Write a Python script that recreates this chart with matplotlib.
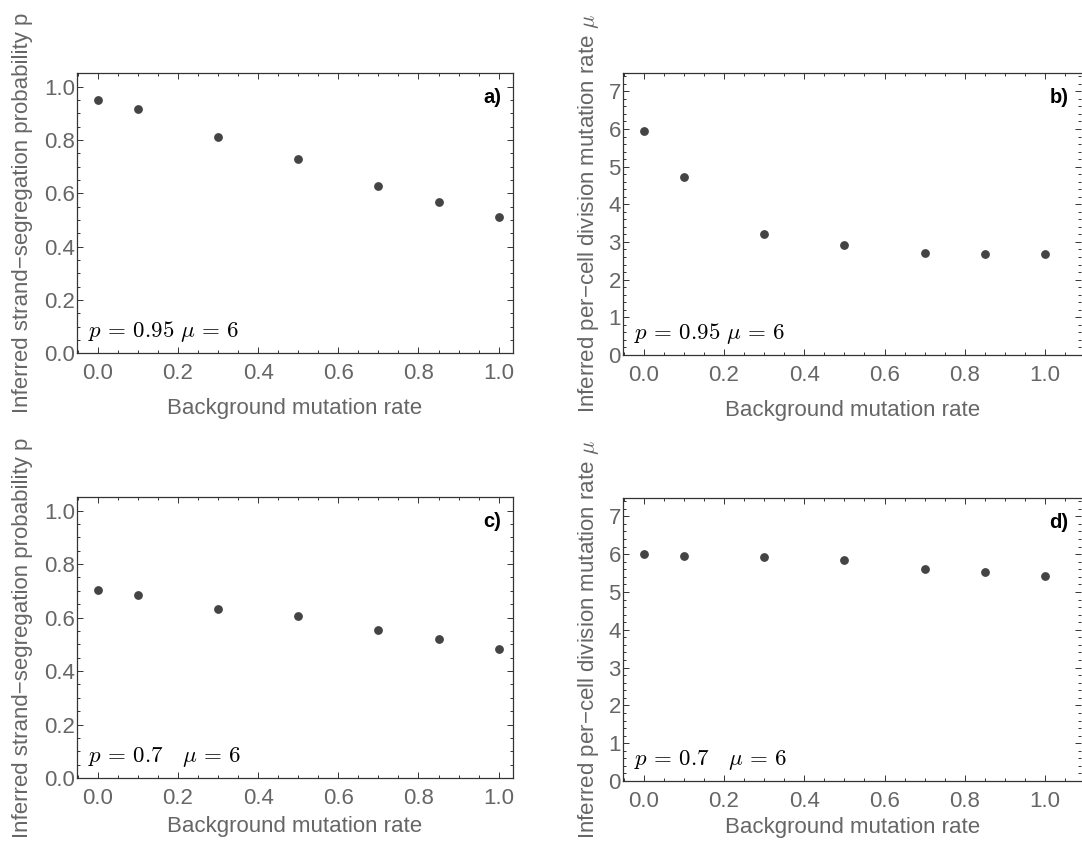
import matplotlib
matplotlib.use("Agg")
import matplotlib.pyplot as plt
from matplotlib.ticker import MultipleLocator

plt.rcParams["font.family"] = ["Liberation Sans", "DejaVu Sans"]
plt.rcParams["mathtext.fontset"] = "cm"

background_rate = [0.0, 0.1, 0.3, 0.5, 0.7, 0.85, 1.0]

p_inferred_095 = [0.950, 0.916, 0.810, 0.730, 0.628, 0.566, 0.510]
mu_inferred_095 = [5.96, 4.73, 3.22, 2.92, 2.72, 2.69, 2.69]
p_inferred_07 = [0.702, 0.685, 0.634, 0.606, 0.555, 0.521, 0.482]
mu_inferred_07 = [6.00, 5.95, 5.92, 5.84, 5.61, 5.54, 5.41]

panel_tags = ["a)", "b)", "c)", "d)"]
param_texts = [r"$p\,=\,0.95\ \mu\,=\,6$", r"$p\,=\,0.95\ \mu\,=\,6$",
               r"$p\,=\,0.7\quad\mu\,=\,6$", r"$p\,=\,0.7\quad\mu\,=\,6$"]

P_LABEL = "Inferred strand\u2212segregation probability p"
MU_LABEL = "Inferred per\u2212cell division mutation rate $\\mu$"
X_LABEL = "Background mutation rate"

GRAY = "#666666"
DOT = "#444444"
SPINE = "#333333"


def style_axes(ax, kind):
    for side, sp in ax.spines.items():
        sp.set_color(SPINE)
        sp.set_linewidth(0.9)
    ax.xaxis.set_major_locator(MultipleLocator(0.2))
    ax.xaxis.set_minor_locator(MultipleLocator(0.05))
    if kind == "p":
        ax.set_ylim(0, 1.05)
        ax.yaxis.set_major_locator(MultipleLocator(0.2))
        ax.yaxis.set_minor_locator(MultipleLocator(0.05))
        ax.set_xlim(-0.0517, 1.036)
    else:
        ax.set_ylim(0, 7.49)
        ax.yaxis.set_major_locator(MultipleLocator(1))
        ax.yaxis.set_minor_locator(MultipleLocator(0.2))
        ax.set_xlim(-0.0516, 1.09)
        ax.spines["right"].set_visible(False)
    ax.tick_params(which="both", direction="in", top=True, right=True,
                   color=SPINE, labelcolor=GRAY, labelsize=16, width=0.7)
    ax.tick_params(which="major", length=4)
    ax.tick_params(which="minor", length=2.2)
    ax.tick_params(axis="x", which="both", pad=7)
    ax.tick_params(axis="y", which="both", pad=1.5)
    ax.yaxis.set_major_formatter(
        plt.FuncFormatter(lambda v, _: f"{v:.1f}" if kind == "p" else f"{v:.0f}"))
    ax.xaxis.set_major_formatter(plt.FuncFormatter(lambda v, _: f"{v:.1f}"))


def plot_panel(ax, y, kind, tag, ptext, xpad):
    ax.plot(background_rate, y, "o", color=DOT, markersize=5.3, clip_on=False)
    style_axes(ax, kind)
    ax.set_xlabel(X_LABEL, fontsize=16, color=GRAY, labelpad=xpad)
    if kind == "p":
        ax.set_ylabel(P_LABEL, fontsize=16, color=GRAY)
        ax.yaxis.set_label_coords(-0.100, 0.5)
    else:
        ax.set_ylabel(MU_LABEL, fontsize=16, color=GRAY)
        ax.yaxis.set_label_coords(-0.048, 0.5)
    ax.text(0.972, 0.893, tag, transform=ax.transAxes, ha="right", va="baseline",
            fontsize=14.5, fontweight="bold", color="black")
    ax.text(0.025, 0.057, ptext, transform=ax.transAxes, ha="left",
            va="baseline", fontsize=16.5, color="black")


fig = plt.figure(figsize=(10.82, 8.43), dpi=100)
ax_a = fig.add_axes([0.0712, 0.581, 0.403, 0.332])
ax_b = fig.add_axes([0.5758, 0.579, 0.4235, 0.3345])
ax_c = fig.add_axes([0.0712, 0.0771, 0.403, 0.333])
ax_d = fig.add_axes([0.5758, 0.0735, 0.4235, 0.336])

plot_panel(ax_a, p_inferred_095, "p", panel_tags[0], param_texts[0], 10)
plot_panel(ax_b, mu_inferred_095, "mu", panel_tags[1], param_texts[1], 10)
plot_panel(ax_c, p_inferred_07, "p", panel_tags[2], param_texts[2], 5)
plot_panel(ax_d, mu_inferred_07, "mu", panel_tags[3], param_texts[3], 4)

fig.savefig("out.png", dpi=100)
plt.close(fig)
